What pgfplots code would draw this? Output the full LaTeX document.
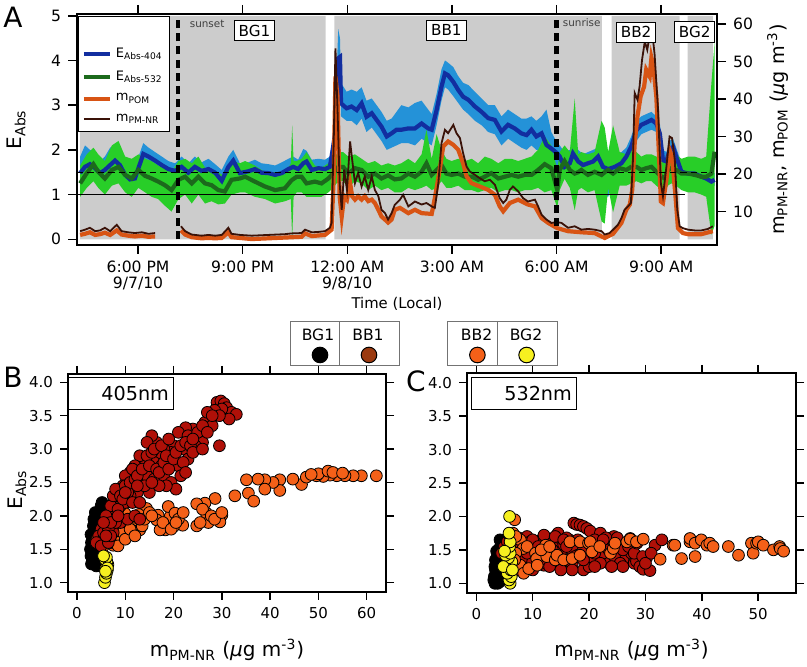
\documentclass[border=0pt]{standalone}
\usepackage{fontspec}
\setmainfont{DejaVu Sans}
\usepackage{pgfplots}
\pgfplotsset{compat=1.18}
\usepackage{pgfplotstable}

\definecolor{bggray}{RGB}{204,204,204}
\definecolor{bandblue}{RGB}{36,146,216}
\definecolor{lineblue}{RGB}{18,46,160}
\definecolor{bandgreen}{RGB}{40,206,40}
\definecolor{linegreen}{RGB}{28,106,28}
\definecolor{pom}{RGB}{216,84,20}
\definecolor{pmnr}{RGB}{58,18,8}
\definecolor{bbred}{RGB}{176,16,8}
\definecolor{bborange}{RGB}{244,96,24}
\definecolor{bgyellow}{RGB}{246,240,32}
\definecolor{bbbrown}{RGB}{155,58,16}

\newcommand\fs[1]{\fontsize{#1}{#1}\selectfont}

% E_Abs-404 : time (h since 0:00 9/7), line, band low, band high
\pgfplotstableread{
h e lo hi
16.34 1.48 1.30 1.85
16.48 1.62 1.40 2.10
16.62 1.68 1.45 2.00
16.77 1.59 1.35 1.95
16.91 1.48 1.30 1.75
17.05 1.55 1.35 1.85
17.20 1.66 1.45 2.05
17.34 1.76 1.55 2.10
17.48 1.66 1.45 1.95
17.63 1.44 1.25 1.70
17.77 1.34 1.18 1.55
17.91 1.36 1.20 1.60
18.06 1.70 1.50 1.95
18.15 1.91 1.70 2.15
18.30 1.85 1.65 2.05
18.49 1.76 1.55 1.95
18.68 1.66 1.45 1.85
18.87 1.57 1.40 1.75
19.06 1.53 1.35 1.70
19.25 1.62 1.42 1.85
19.44 1.49 1.32 1.70
19.63 1.62 1.42 1.85
19.82 1.53 1.35 1.72
20.02 1.57 1.38 1.80
20.21 1.49 1.30 1.68
20.40 1.31 1.15 1.55
20.59 1.62 1.42 1.85
20.73 1.76 1.55 2.00
20.92 1.48 1.30 1.70
21.16 1.52 1.35 1.72
21.35 1.57 1.38 1.78
21.54 1.49 1.32 1.70
21.74 1.48 1.30 1.68
21.93 1.44 1.28 1.65
22.12 1.48 1.30 1.72
22.31 1.57 1.38 1.80
22.45 1.62 1.42 1.85
22.59 1.57 1.38 1.78
22.74 1.70 1.50 2.02
22.83 1.74 1.52 1.98
22.98 1.55 1.38 1.78
23.17 1.59 1.40 1.80
23.36 1.57 1.40 1.78
23.50 1.62 1.45 1.85
23.58 2.00 1.80 2.25
23.65 2.37 2.10 2.70
23.69 3.00 2.70 3.60
23.74 4.05 3.70 4.70
23.79 4.08 3.60 4.50
23.82 3.04 2.75 3.50
23.98 2.93 2.65 3.30
24.12 2.97 2.65 3.35
24.27 2.89 2.55 3.30
24.41 3.04 2.70 3.40
24.55 2.74 2.40 3.10
24.70 2.82 2.50 3.15
24.84 2.67 2.35 3.00
24.98 2.52 2.20 2.85
25.13 2.30 2.00 2.65
25.27 2.37 2.05 2.70
25.41 2.45 2.10 2.85
25.55 2.45 2.15 3.00
25.75 2.48 2.15 2.95
25.94 2.48 2.10 3.05
26.13 2.59 2.25 3.10
26.32 2.48 2.15 2.90
26.42 2.45 2.10 2.80
26.56 2.89 2.55 3.25
26.70 3.41 3.10 3.80
26.80 3.71 3.40 4.00
26.89 3.67 3.35 3.95
27.04 3.52 3.20 3.85
27.18 3.34 3.05 3.65
27.32 3.19 2.90 3.50
27.47 3.12 2.80 3.45
27.66 2.97 2.65 3.30
27.85 2.85 2.55 3.15
28.04 2.71 2.40 3.00
28.23 2.67 2.35 3.00
28.42 2.41 2.10 2.75
28.61 2.56 2.25 2.90
28.80 2.48 2.15 2.80
28.99 2.37 2.05 2.70
29.14 2.33 2.00 2.70
29.28 2.45 2.10 2.75
29.42 2.30 2.00 2.65
29.57 2.37 2.00 2.75
29.71 2.11 1.75 2.90
29.85 2.03 1.75 2.40
30.02 1.92 1.60 2.15
30.09 1.85 1.55 2.10
30.23 1.62 1.40 1.95
30.38 1.70 1.45 2.00
30.47 1.92 1.65 2.25
30.62 1.74 1.50 2.00
30.76 1.66 1.45 1.90
30.90 1.70 1.48 1.95
31.05 1.74 1.50 2.00
31.19 1.85 1.60 2.05
31.33 1.62 1.00 1.85
31.48 1.57 0.95 1.80
31.67 1.62 1.40 1.85
31.86 1.70 1.45 1.95
32.00 1.85 1.60 2.05
32.14 2.07 1.85 2.30
32.29 2.44 2.20 2.65
32.43 2.56 2.35 2.75
32.57 2.61 2.40 2.80
32.72 2.67 2.45 2.85
32.86 2.59 2.40 2.75
32.96 2.37 2.15 2.60
33.05 1.77 1.55 2.00
33.15 1.74 1.55 1.95
33.24 2.00 1.80 2.20
33.34 2.07 1.85 2.25
33.43 1.85 1.65 2.05
33.58 1.51 1.35 1.70
33.77 1.47 1.30 1.65
33.96 1.47 1.30 1.62
34.15 1.40 1.25 1.58
34.29 1.36 1.20 1.52
34.44 1.29 1.15 1.45
34.53 1.33 1.20 1.48
}\bluetab

% E_Abs-532
\pgfplotstableread{
h e lo hi
16.34 1.25 0.95 1.65
16.53 1.48 1.15 1.90
16.72 1.68 1.30 2.05
16.86 1.51 1.15 1.90
17.05 1.36 1.00 1.75
17.25 1.55 1.20 2.10
17.44 1.62 1.25 2.20
17.63 1.44 1.05 1.85
17.82 1.36 0.95 1.80
18.01 1.55 1.15 1.90
18.20 1.42 1.05 1.80
18.39 1.36 0.95 1.75
18.58 1.29 0.90 1.65
18.77 1.21 0.75 1.60
18.96 1.10 0.62 1.50
19.16 1.33 0.90 1.75
19.35 1.40 1.00 1.80
19.54 1.25 0.80 1.70
19.73 1.40 1.00 1.85
19.92 1.25 0.80 1.60
20.11 1.21 0.85 1.55
20.30 1.10 0.78 1.50
20.49 1.07 0.80 1.40
20.68 1.33 1.00 1.75
20.92 1.36 1.05 1.70
21.07 1.40 1.05 1.75
21.35 1.29 0.95 1.65
21.64 1.18 0.90 1.50
21.93 1.10 0.80 1.50
22.21 1.14 0.85 1.45
22.38 1.30 0.90 1.70
22.42 1.33 0.00 2.55
22.46 1.35 0.95 1.75
22.55 1.40 1.05 1.75
22.69 1.40 1.05 1.80
22.83 1.25 0.95 1.95
23.07 1.29 0.95 1.65
23.26 1.25 0.95 1.60
23.46 1.36 1.05 1.70
23.60 1.47 1.15 1.80
23.74 1.62 1.30 1.95
23.88 1.62 1.30 1.95
24.03 1.47 1.15 1.85
24.22 1.59 1.30 1.90
24.41 1.55 1.25 1.80
24.60 1.40 1.10 1.70
24.79 1.47 1.20 1.75
24.98 1.36 1.10 1.65
25.17 1.43 1.15 1.70
25.36 1.34 1.05 1.65
25.55 1.36 1.05 1.70
25.75 1.47 1.15 1.80
25.94 1.40 1.10 1.70
26.13 1.51 1.15 1.90
26.27 1.70 1.20 2.45
26.42 1.44 1.10 1.80
26.56 1.55 1.15 2.35
26.70 1.66 1.30 2.00
26.84 1.47 1.15 1.80
26.99 1.44 1.15 1.75
27.18 1.47 1.20 1.80
27.37 1.40 1.10 1.75
27.57 1.40 1.10 1.80
27.75 1.33 1.05 1.70
27.94 1.40 1.10 1.85
28.13 1.48 1.15 1.80
28.33 1.36 1.05 1.70
28.52 1.40 1.10 1.80
28.71 1.44 1.10 1.80
28.90 1.40 1.05 1.75
29.09 1.44 1.10 1.80
29.28 1.44 1.10 1.85
29.47 1.55 1.15 2.00
29.66 1.68 1.05 2.30
29.85 1.59 1.10 2.10
30.02 1.10 0.70 1.55
30.09 1.55 1.10 1.95
30.23 1.75 1.35 2.10
30.38 1.55 1.15 1.95
30.52 1.47 0.65 3.15
30.62 1.50 1.10 1.90
30.71 1.55 1.15 1.95
30.90 1.44 1.05 1.90
31.09 1.51 1.10 1.95
31.29 1.44 0.40 2.65
31.38 1.50 0.35 2.50
31.48 1.55 1.15 1.95
31.62 1.47 0.60 2.55
31.81 1.59 1.20 1.95
32.00 1.55 1.20 1.90
32.14 1.62 1.25 2.00
32.29 1.62 1.30 1.95
32.43 1.55 1.25 1.85
32.57 1.59 1.30 1.90
32.72 1.62 1.30 1.90
32.86 1.51 1.20 1.85
33.01 1.40 1.10 1.75
33.10 1.36 1.05 1.70
33.19 1.55 1.20 1.85
33.29 1.59 1.25 1.95
33.43 1.55 1.20 1.90
33.58 1.47 1.10 1.80
33.77 1.47 1.05 1.85
33.96 1.44 1.05 1.85
34.15 1.40 1.00 1.80
34.29 1.40 0.95 1.85
34.44 1.47 0.10 3.50
34.53 1.96 0.30 4.40
}\greentab

% m_PM-NR (ug m^-3)
\pgfplotstableread{
h m
16.34 4.8
16.48 5.2
16.62 5.7
16.77 4.8
16.91 5.0
17.05 5.7
17.20 4.8
17.39 6.5
17.53 4.8
17.72 4.5
17.91 4.3
18.11 4.5
18.30 4.1
18.49 4.3
18.80 nan
19.23 6.1
19.35 4.8
19.54 3.9
19.82 3.6
20.02 3.8
20.21 3.6
20.40 3.8
20.59 5.7
20.68 4.1
20.92 3.8
21.26 3.6
21.74 3.8
22.21 4.0
22.40 4.2
22.69 4.3
22.79 5.2
22.98 4.5
23.17 4.6
23.36 4.8
23.50 5.7
23.55 7.0
23.61 28.2
23.66 53.5
23.72 37.1
23.78 17.6
23.84 10.5
23.91 21.2
23.99 15.8
24.08 28.7
24.14 23.8
24.22 17.6
24.31 20.3
24.41 16.7
24.50 19.4
24.60 15.8
24.70 19.4
24.79 15.8
24.89 14.1
24.98 10.5
25.08 9.6
25.17 7.9
25.27 9.6
25.36 11.8
25.51 13.2
25.60 14.5
25.75 11.4
25.94 12.7
26.13 11.9
26.27 12.3
26.42 11.4
26.51 11.0
26.61 17.6
26.70 28.2
26.80 31.8
26.89 30.9
27.04 33.1
27.13 30.9
27.23 29.6
27.32 25.6
27.42 22.0
27.51 20.7
27.66 19.8
27.80 18.9
27.94 18.1
28.09 18.5
28.23 17.2
28.37 13.6
28.47 12.3
28.56 13.2
28.66 15.8
28.75 16.7
28.90 15.4
29.04 13.6
29.18 12.7
29.38 13.2
29.47 11.4
29.57 9.2
29.71 7.9
29.85 7.0
30.02 7.2
30.14 7.0
30.33 5.7
30.52 6.1
30.71 5.2
30.90 5.4
31.09 5.2
31.29 4.8
31.38 3.9
31.52 4.3
31.62 5.2
31.76 6.5
31.86 8.3
31.95 10.5
32.05 11.4
32.13 12.3
32.19 23.8
32.24 41.6
32.32 39.8
32.38 43.3
32.45 50.4
32.53 55.3
32.60 53.1
32.67 57.0
32.74 58.0
32.81 52.0
32.91 37.1
32.99 17.6
33.05 14.1
33.15 22.0
33.24 30.0
33.31 29.6
33.39 23.8
33.46 10.5
33.53 6.1
33.62 5.6
33.77 5.2
33.96 5.0
34.15 5.0
34.34 5.4
34.48 6.1
}\pmnrtab

% m_POM (ug m^-3)
\pgfplotstableread{
h m
16.34 3.8
16.48 4.1
16.62 4.5
16.77 3.8
16.91 4.0
17.05 4.4
17.20 3.8
17.39 5.0
17.53 3.9
17.72 3.6
17.91 3.4
18.11 3.6
18.30 3.3
18.49 3.4
18.80 nan
19.23 5.0
19.35 3.9
19.54 3.2
19.82 2.9
20.02 3.0
20.21 2.9
20.40 3.0
20.59 4.5
20.68 3.2
20.92 3.0
21.26 2.7
21.74 2.9
22.21 3.1
22.69 3.3
22.79 4.2
22.98 3.5
23.36 3.8
23.55 5.2
23.61 19.4
23.66 46.0
23.72 40.7
23.78 14.1
23.84 8.7
23.91 14.1
23.99 13.2
24.08 17.6
24.14 14.1
24.22 13.2
24.31 14.1
24.41 13.2
24.50 14.1
24.60 12.8
24.70 13.2
24.79 12.3
24.89 10.5
24.98 8.7
25.08 7.9
25.17 7.1
25.27 7.9
25.36 10.5
25.51 11.0
25.75 9.6
25.94 10.5
26.13 9.6
26.42 9.4
26.51 13.6
26.65 21.2
26.75 27.4
26.89 28.7
27.04 27.8
27.18 26.5
27.32 22.9
27.42 19.4
27.56 17.6
27.80 16.7
28.04 15.8
28.23 14.5
28.37 11.4
28.47 10.1
28.66 12.3
28.90 13.2
29.18 11.9
29.38 11.4
29.57 8.3
29.76 7.0
30.02 5.6
30.33 4.8
30.71 4.5
31.09 4.3
31.38 3.0
31.62 4.1
31.86 7.0
32.00 10.5
32.10 11.9
32.17 15.8
32.24 28.2
32.32 35.4
32.41 40.7
32.51 43.3
32.57 47.8
32.67 46.0
32.72 51.0
32.77 49.0
32.86 40.7
32.93 26.5
32.99 12.7
33.05 12.3
33.15 18.5
33.24 26.5
33.31 24.7
33.41 14.1
33.48 5.6
33.62 4.3
33.77 4.0
34.15 4.0
34.48 4.8
}\pomtab

\pgfplotsset{
  base/.style={scale only axis, tick align=outside, major tick length=4.5pt,
    axis line style={line width=0.75pt}, tick style={black, line width=0.75pt},
    /pgf/number format/assume math mode=true,
    tick label style={font=\fs{7.8}},
    label style={font=\fs{10}},
  },
  topA/.style={base, at={(38.5pt,211pt)}, anchor=south west,
    width=320pt, height=115.5pt, xmin=16.25, xmax=34.6},
  scat/.style={only marks, mark=*, mark size=2.95pt,
    mark options={draw=black, line width=0.35pt}},
}

\begin{document}
\begin{tikzpicture}
\useasboundingbox (0,0) rectangle (403.5pt,333.5pt);

% ---------------- Panel A : E_Abs axis (frame, shading, 404 band) ----------------
\begin{axis}[topA, ymin=-0.128, ymax=5.04,
  xtick={18,21,24,27,30,33},
  xticklabels={{6:00 PM\\9/7/10},{9:00 PM},{12:00 AM\\9/8/10},{3:00 AM},{6:00 AM},{9:00 AM}},
  xticklabel style={align=center, font=\fs{7.8}},
  ytick={0,1,2,3,4,5}, ytick pos=left, xtick pos=both,
  xlabel={Time (Local)}, xlabel style={font=\fs{7.4}, at={(axis description cs:0.5,-0.255)}, anchor=center},
  ylabel={E\textsubscript{Abs}}, ylabel style={at={(axis description cs:-0.095,0.5)}, anchor=center},
]
\addplot[fill=bggray, draw=none, forget plot] coordinates {(16.34,0) (23.38,0) (23.38,5) (16.34,5) (16.34,0)};
\addplot[fill=bggray, draw=none, forget plot] coordinates {(23.63,0) (31.30,0) (31.30,5) (23.63,5) (23.63,0)};
\addplot[fill=bggray, draw=none, forget plot] coordinates {(31.58,0) (33.53,0) (33.53,5) (31.58,5) (31.58,0)};
\addplot[fill=bggray, draw=none, forget plot] coordinates {(33.76,0) (34.48,0) (34.48,5) (33.76,5) (33.76,0)};
\addplot[draw=none, stack plots=y, forget plot] table[x=h, y=lo] {\bluetab};
\addplot[fill=bandblue, draw=none, stack plots=y, forget plot] table[x=h, y expr=\thisrow{hi}-\thisrow{lo}] {\bluetab} \closedcycle;
\end{axis}

% ---------------- Panel A : 532 band and the two E_Abs lines ----------------
\begin{axis}[topA, ymin=-0.128, ymax=5.04, hide axis]
\addplot[draw=none, stack plots=y, forget plot] table[x=h, y=lo] {\greentab};
\addplot[fill=bandgreen, draw=none, stack plots=y, forget plot] table[x=h, y expr=\thisrow{hi}-\thisrow{lo}] {\greentab} \closedcycle;
\addplot[lineblue, line width=2.1pt, forget plot] table[x=h, y=e] {\bluetab};
\addplot[linegreen, line width=2.1pt, forget plot] table[x=h, y=e] {\greentab};
\end{axis}

% ---------------- Panel A : mass axis ----------------
\begin{axis}[topA, ymin=1.12, ymax=62.65, axis x line=none, axis y line*=right,
  ytick={10,20,30,40,50,60}, unbounded coords=jump,
  ylabel={m\textsubscript{PM-NR}, m\textsubscript{POM} (\textit{μ}g m\textsuperscript{-3})},
  ylabel style={font=\fs{9.6}, at={(axis description cs:1.095,0.5)}, anchor=center},
]
\addplot[pom, line width=2.1pt, forget plot] table[x=h, y=m] {\pomtab};
\addplot[pmnr, line width=0.9pt, forget plot] table[x=h, y=m] {\pmnrtab};
\end{axis}

% ---------------- Panel A : annotations ----------------
\begin{axis}[topA, ymin=-0.128, ymax=5.04, hide axis, clip=false,
  legend style={at={(axis description cs:0.002,0.992)}, anchor=north west,
    draw=black, line width=0.5pt, fill=white, font=\fs{6.5},
    inner xsep=1.5pt, inner ysep=1.5pt, row sep=1.2pt, legend cell align=left},
  legend image code/.code={\draw[#1] (0pt,0pt) -- (13pt,0pt);},
]
\addplot[black, line width=0.7pt, forget plot] coordinates {(16.25,1) (33.68,1)};
\addplot[black, line width=0.7pt, dash pattern=on 3.2pt off 2pt, forget plot] coordinates {(16.25,1.5) (34.45,1.5)};
\addplot[black, line width=2.2pt, dash pattern=on 4pt off 2.6pt, forget plot] coordinates {(19.15,0) (19.15,5)};
\addplot[black, line width=2.2pt, dash pattern=on 4pt off 2.6pt, forget plot] coordinates {(30.0,0) (30.0,5)};
\node[font=\fs{5.2}, text=black!75] at (axis cs:19.98,4.82) {sunset};
\node[font=\fs{5.2}, text=black!75] at (axis cs:30.72,4.85) {sunrise};
\node[draw, fill=white, font=\fs{7.6}, inner sep=2.2pt, line width=0.5pt] at (axis cs:21.34,4.67) {BG1};
\node[draw, fill=white, font=\fs{7.6}, inner sep=2.2pt, line width=0.5pt] at (axis cs:26.84,4.68) {BB1};
\node[draw, fill=white, font=\fs{7.6}, inner sep=2.2pt, line width=0.5pt] at (axis cs:32.28,4.63) {BB2};
\node[draw, fill=white, font=\fs{7.6}, inner sep=2.2pt, line width=0.5pt] at (axis cs:33.96,4.64) {BG2};
\addlegendimage{empty legend}\addlegendentry{\rule{0pt}{5.5pt}}
\addlegendimage{lineblue, line width=2.1pt}\addlegendentry{E\textsubscript{Abs-404}}
\addlegendimage{linegreen, line width=2.1pt}\addlegendentry{E\textsubscript{Abs-532}}
\addlegendimage{pom, line width=2.1pt}\addlegendentry{m\textsubscript{POM}}
\addlegendimage{pmnr, line width=0.9pt}\addlegendentry{m\textsubscript{PM-NR}}
\end{axis}

% ---------------- Panel B ----------------
\begin{axis}[base, at={(34pt,37.5pt)}, anchor=south west, width=159pt, height=109pt,
  xmin=-1.86, xmax=64, ymin=0.86, ymax=4.124,
  xtick={0,10,20,30,40,50,60}, ytick={1,1.5,2,2.5,3,3.5,4},
  yticklabel style={/pgf/number format/.cd, fixed, fixed zerofill, precision=1},
  tick label style={font=\fs{7.5}}, tick pos=both, major tick length=4pt,
  xlabel={m\textsubscript{PM-NR} (\textit{μ}g m\textsuperscript{-3})},
  xlabel style={at={(axis description cs:0.5,-0.266)}, anchor=center},
  ylabel={E\textsubscript{Abs}},
  ylabel style={at={(axis description cs:-0.16,0.47)}, anchor=center},
]
\addplot[scat, mark options={fill=black}] coordinates {
(3.0,1.28) (3.2,1.33) (2.9,1.40) (3.4,1.45) (3.1,1.52) (3.6,1.58) (3.3,1.63) (3.8,1.70)
(3.5,1.76) (4.0,1.82) (3.7,1.88) (4.2,1.95) (4.6,2.05) (5.0,2.15) (5.2,2.20) (4.4,2.00)
(3.9,1.50) (4.2,1.40) (3.6,1.30) (4.5,1.60) (3.2,1.70) (4.8,1.85) (3.5,1.95) (4.0,1.25)
(3.0,1.60) (4.3,1.75) (3.3,1.38) (2.8,1.50) (3.4,1.85) (2.9,1.72) (3.8,2.05)};
\addplot[scat, mark options={fill=bborange}] coordinates {
(62.0,2.60) (58.9,2.60) (57.2,2.60) (55.5,2.60) (53.8,2.60) (52.4,2.61) (51.0,2.59) (49.6,2.60)
(50.0,2.63) (52.0,2.67) (53.0,2.65) (55.0,2.64) (46.5,2.47) (44.7,2.55) (42.0,2.54) (42.0,2.38)
(40.6,2.50) (38.9,2.54) (38.9,2.40) (37.5,2.55) (35.1,2.54) (35.5,2.34) (36.6,2.22) (32.7,2.30)
(28.6,2.26) (26.5,2.19) (24.8,2.18) (24.8,1.85) (26.8,2.04) (27.2,1.90) (29.3,1.98) (30.0,2.01)
(29.6,1.91) (21.9,1.86) (20.0,1.84) (18.3,1.79) (19.3,1.99) (18.9,2.14) (20.3,2.04) (16.8,2.01)
(14.4,2.11) (16.5,1.94) (17.2,1.79) (12.3,1.94) (13.0,1.79) (10.6,1.89) (11.3,1.74) (8.9,1.71)
(9.9,2.04) (7.5,1.56) (7.9,1.64) (6.1,1.74) (5.4,1.54) (4.1,1.64) (6.8,1.84) (12.8,2.02)
(7.0,1.60) (8.5,1.55) (9.5,1.75) (10.0,1.65) (11.0,1.80) (12.0,1.70) (13.5,1.85) (14.0,1.95)
(15.0,2.05) (15.5,2.00) (17.8,1.90) (19.5,1.80) (21.0,1.95) (22.0,2.05) (25.5,1.90) (26.0,2.10)
(27.8,2.00) (28.5,1.95) (30.0,2.05) (20.5,1.90) (47.5,2.58) (48.5,2.62)};
\addplot[scat, mark options={fill=bbred}] coordinates {
(29,3.70) (29.8,3.72) (30.5,3.68) (31,3.62) (32,3.55) (33,3.52) (31.5,3.45) (30,3.60)
(28.5,3.58) (29.5,3.50) (27.5,3.45) (26.5,3.40) (28,3.35) (29.5,3.05) (25.5,3.30) (24,3.30)
(22.5,3.32) (21,3.25) (23,3.20) (25,3.15) (26,3.10) (24.5,3.05) (22,3.00) (20,3.05)
(19.5,2.95) (18,3.00) (16.5,3.10) (15.5,3.20) (14.5,3.10) (17,2.90) (16,2.80) (14,2.85)
(13,2.90) (12,2.75) (11,2.65) (10,2.60) (11.5,2.50) (13,2.55) (14.5,2.60) (16,2.55)
(18,2.60) (19.5,2.50) (20.5,2.40) (21,2.75) (23,2.85) (17.5,2.75) (12.5,2.35) (11,2.30)
(9.5,2.45) (8.5,2.40) (8,2.25) (9,2.15) (10,2.20) (7.5,2.05) (6.5,1.95) (6,1.85)
(5,1.80) (4.5,1.70) (5.5,1.65) (4,1.60) (5,1.55) (6.5,1.60) (7.5,1.75) (9,1.90)
(10.5,1.95) (12,2.00) (13,1.95) (7,2.15) (15,2.35) (18.5,2.45) (6,2.00) (8,1.90)
(5.5,1.75) (6.5,1.80) (7,1.90) (7.5,2.30) (8,2.40) (8.5,2.10) (9,2.30) (9.5,2.25)
(10,2.45) (10.5,2.35) (11,2.50) (11.5,2.70) (12,2.55) (12.5,2.60) (13.5,2.70) (14,2.45)
(14.5,2.90) (15,2.75) (15.5,2.95) (16,3.00) (16.5,2.70) (17,2.65) (17.5,3.05) (18,2.80)
(18.5,2.90) (19,2.70) (19,3.15) (20,2.85) (20.5,2.95) (21.5,3.05) (22,2.80) (22.5,3.10)
(23.5,3.05) (24,2.95) (25,3.25) (26,3.35) (27,3.25) (27,3.55) (28,3.50) (26,3.00)
(24,3.15) (21.5,2.60) (22.5,2.65) (10,2.35) (8.5,2.00) (7,1.70) (6,1.70) (5.5,1.90)
(11.5,2.20) (13,2.20) (12.5,2.45) (17,2.45) (15.5,2.50)};
\addplot[scat, mark options={fill=bgyellow}] coordinates {
(5.7,1.00) (5.9,1.08) (6.1,1.14) (6.3,1.19) (6.0,1.23) (6.4,1.27) (6.2,1.31) (5.8,1.35)
(6.1,1.38) (5.5,1.40) (6.3,1.22) (5.9,1.17)};
\node[draw, fill=white, anchor=north west, font=\fs{9.6}, line width=0.5pt,
  text width=48pt, align=right, inner sep=2.2pt, minimum height=16pt]
  at (axis description cs:0,0.985) {405nm};
\end{axis}

% ---------------- Panel C ----------------
\begin{axis}[base, at={(233.5pt,37pt)}, anchor=south west, width=164.5pt, height=110pt,
  xmin=-1.65, xmax=56.7, ymin=0.855, ymax=4.145,
  xtick={0,10,20,30,40,50}, ytick={1,1.5,2,2.5,3,3.5,4},
  yticklabel style={/pgf/number format/.cd, fixed, fixed zerofill, precision=1},
  tick label style={font=\fs{7.5}}, tick pos=both, major tick length=4pt,
  xlabel={m\textsubscript{PM-NR} (\textit{μ}g m\textsuperscript{-3})},
  xlabel style={at={(axis description cs:0.5,-0.259)}, anchor=center},
]
\addplot[scat, mark options={fill=black}] coordinates {
(3.3,1.00) (3.5,1.05) (3.2,1.10) (3.6,1.15) (3.4,1.20) (3.8,1.25) (3.5,1.30) (4.0,1.35)
(3.7,1.40) (4.2,1.45) (3.9,1.50) (4.3,1.55) (4.5,1.60) (4.2,1.65) (3.8,1.00) (4.0,1.10)
(4.4,1.20) (3.9,1.30) (3.1,1.05) (4.1,1.02) (3.4,1.35) (3.6,1.48) (3.3,1.25)};
\addplot[scat, mark options={fill=bbred}] coordinates {
(4.5,1.45) (5,1.55) (5.5,1.62) (6,1.50) (6.5,1.40) (7,1.60) (7.5,1.68) (8,1.55)
(8.5,1.45) (9,1.70) (9.5,1.62) (10,1.50) (10.5,1.58) (11,1.40) (11.5,1.65) (12,1.72)
(12.5,1.55) (13,1.45) (13.5,1.60) (14,1.52) (14.5,1.75) (15,1.48) (15.5,1.58) (16,1.35)
(16.5,1.65) (17.3,1.90) (17.8,1.88) (18.4,1.87) (19,1.85) (19.6,1.82) (20.2,1.78) (18.5,1.55)
(19,1.20) (19.5,1.40) (20,1.25) (20.5,1.50) (21,1.35) (21.5,1.60) (22,1.75) (22.5,1.45)
(23,1.55) (23.5,1.30) (24,1.62) (24.4,1.70) (25,1.45) (25.5,1.55) (26,1.35) (26.5,1.60)
(27.3,1.67) (27.5,1.45) (28,1.30) (28.4,1.33) (29,1.25) (29.6,1.21) (30.2,1.38) (30.8,1.19)
(31.7,1.57) (32.9,1.65) (12,1.27) (11.5,1.30) (13,1.35) (15,1.30) (17,1.28) (9,1.25)
(8,1.35) (7,1.30) (6,1.25) (10,1.32) (16,1.68) (14,1.70) (21,1.65) (23,1.68)
(25,1.68) (17,1.50) (18,1.42)
(5.5,1.35) (6,1.70) (7,1.50) (8,1.25) (9,1.45) (10,1.65) (11,1.55) (12.5,1.35)
(13.5,1.50) (14.5,1.40) (15.5,1.65) (16,1.55) (17.5,1.40) (18,1.65) (19,1.50) (20,1.60)
(21,1.45) (22,1.30) (22.5,1.65) (23.5,1.50) (24.5,1.40) (25.5,1.30) (26,1.50) (27,1.55)
(28,1.45) (28.5,1.60) (29.5,1.40) (30,1.30) (31,1.45) (26,1.25) (24,1.25) (21,1.25)
(17,1.20) (13,1.25) (10,1.20) (7.5,1.20) (19,1.35) (15,1.20)};
\addplot[scat, mark options={fill=bborange}] coordinates {
(7.8,1.65) (8.3,1.52) (7.8,1.27) (8.4,1.15) (9.0,1.55) (9.3,1.22) (10.5,1.45) (10.7,1.37)
(10.8,1.27) (12.3,1.57) (12.5,1.40) (14.0,1.35) (14.3,1.42) (15.5,1.35) (16.6,1.62) (17.0,1.37)
(18.4,1.62) (18.4,1.42) (19.9,1.60) (20.2,1.62) (20.5,1.47) (21.9,1.55) (23.8,1.45) (24.3,1.52)
(24.6,1.60) (26.7,1.62) (27.3,1.66) (28.4,1.62) (29.6,1.66) (32.6,1.36) (34.9,1.57) (35.2,1.57)
(36.4,1.37) (37.9,1.62) (37.9,1.67) (38.8,1.60) (38.8,1.40) (39.9,1.65) (40.9,1.57) (41.4,1.60)
(42.0,1.55) (44.7,1.55) (46.5,1.42) (48.8,1.60) (49.1,1.45) (49.7,1.60) (50.0,1.62) (50.9,1.57)
(52.7,1.50) (53.8,1.55) (53.9,1.52) (54.5,1.48) (6.5,1.75) (7.0,1.45) (6.8,1.35) (11.5,1.50)
(13.0,1.55) (6.8,1.95) (7.0,1.70)};
\addplot[scat, mark options={fill=bgyellow}] coordinates {
(6.0,1.00) (5.8,1.05) (6.2,1.10) (5.5,1.15) (6.1,1.20) (5.9,1.28) (6.3,1.32) (5.7,1.38)
(5.2,1.42) (6.0,1.45) (5.9,1.55) (6.0,1.62) (5.8,1.75) (5.9,2.00) (4.8,1.25) (5.0,1.48) (6.4,1.20)};
\node[draw, fill=white, anchor=north west, font=\fs{9.6}, line width=0.5pt,
  text width=48pt, align=right, inner sep=2.2pt, minimum height=16pt]
  at (axis description cs:0.012,0.98) {532nm};
\end{axis}

% ---------------- legends for B and C ----------------
\begin{scope}[line width=0.5pt]
\draw[black!55] (145pt,150.5pt) rectangle (169.5pt,172.5pt);
\draw[black!55] (169.5pt,150.5pt) rectangle (199.5pt,172.5pt);
\node[font=\fs{7.8}] at (159pt,166pt) {BG1};
\node[font=\fs{7.8}] at (184pt,166pt) {BB1};
\filldraw[fill=black, draw=black] (160pt,156pt) circle (3.9pt);
\filldraw[fill=bbbrown, draw=black] (184.5pt,156pt) circle (3.9pt);
\draw[black!55] (223.5pt,150.5pt) rectangle (248.5pt,172.5pt);
\draw[black!55] (248.5pt,150.5pt) rectangle (278.5pt,172.5pt);
\node[font=\fs{7.8}] at (238.3pt,166pt) {BB2};
\node[font=\fs{7.8}] at (263pt,166pt) {BG2};
\filldraw[fill=bborange, draw=black] (238.7pt,156pt) circle (3.9pt);
\filldraw[fill=bgyellow, draw=black] (263.3pt,156pt) circle (3.9pt);
\end{scope}

\node[font=\fs{14}] at (6.5pt,325pt) {A};
\node[font=\fs{14}] at (6.5pt,145pt) {B};
\node[font=\fs{14}] at (208pt,143pt) {C};
\end{tikzpicture}
\end{document}
